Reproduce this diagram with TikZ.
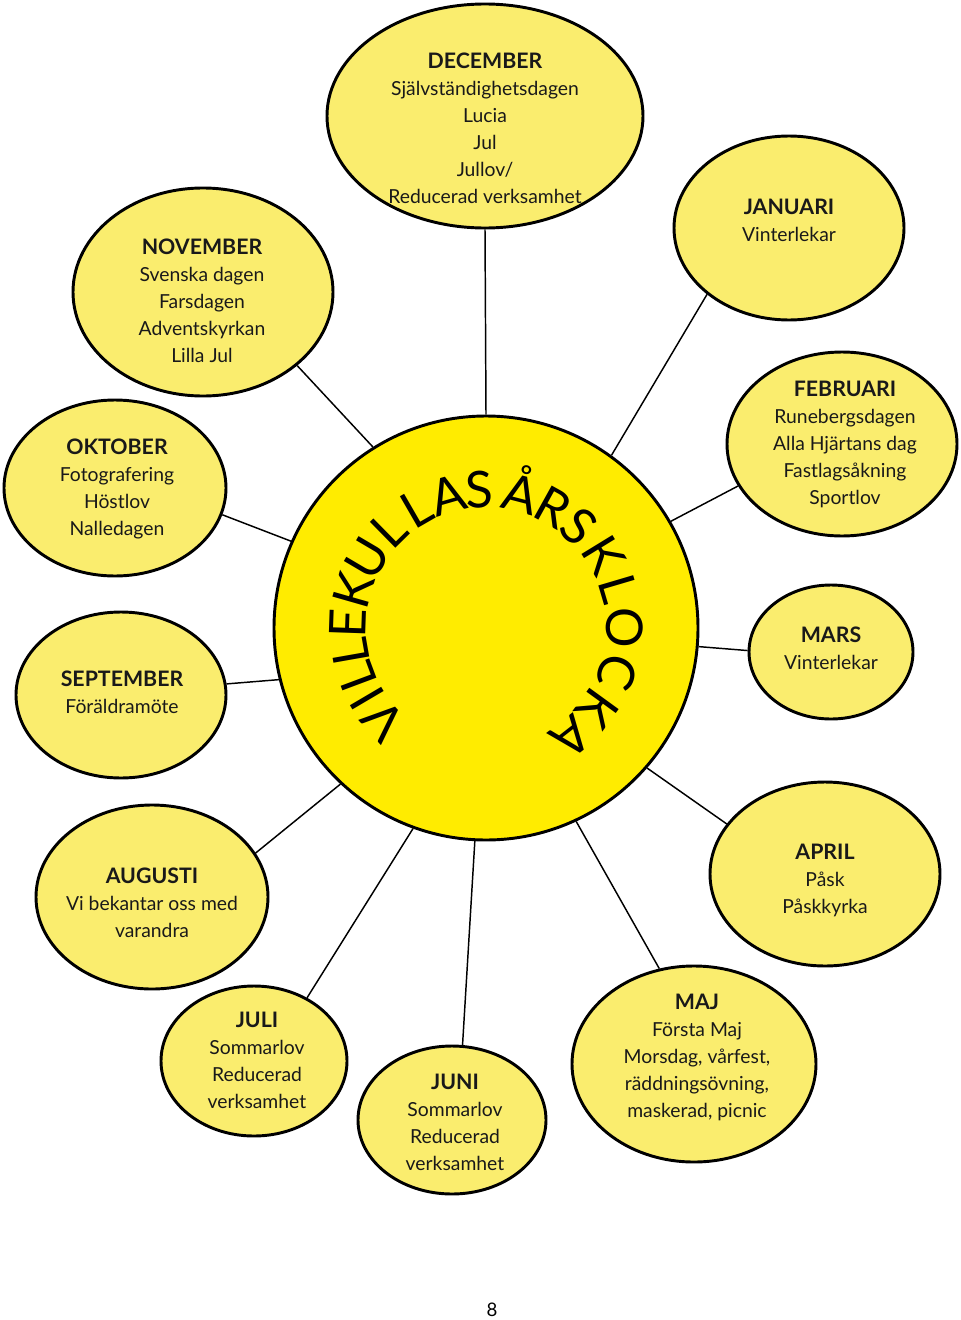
\documentclass[tikz,border=0pt]{standalone}
\usepackage{fontspec}
\setmainfont{Lato}
\usetikzlibrary{shapes.geometric}
\definecolor{pale}{RGB}{250,237,110}
\definecolor{sunfill}{RGB}{255,236,0}
\newcommand{\mhead}[1]{{\fontsize{16}{20.25}\selectfont\bfseries #1}}
\newcommand{\monthell}[5]{\node[month, minimum width=#4*1.5pt, minimum height=#5*1.5pt] (#1) at (#2,-#3) {};}
\begin{document}
\begin{tikzpicture}[x=0.75pt,y=0.75pt,
  month/.style={ellipse, draw=black, line width=2.2pt, fill=pale, inner sep=0pt},
  mtext/.style={align=center, font=\fontsize{14.5}{20.25}\selectfont, inner sep=0pt, text=black!90},
  arcletter/.style={font=\fontsize{38}{38}\selectfont, anchor=base, inner sep=0pt},
  conn/.style={line width=1.1pt}]
\useasboundingbox[fill=white] (0,0) rectangle (960,-1320);

% central clock
\node[circle, draw=black, line width=2.2pt, fill=sunfill, minimum size=424*0.75pt, inner sep=0pt] (clock) at (486,-628) {};
\foreach \ch/\ang [count=\i] in {V/222, I/210.5, L/200.5, L/190, E/178, K/164, U/149.5, L/134.5, L/120, A/106, S/93, Å/75.5, R/61, S/47.5, K/31.5, L/16.5, O/0, C/-18.5, K/-36, A/-52}
  \node[arcletter, rotate=\ang-90] (l\i) at ([shift={(\ang:90pt)}]clock.center) {\ch};

% month ellipses
\monthell{dec}{485}{116}{158}{112}
\monthell{nov}{203}{292}{130}{104}
\monthell{jan}{789}{228}{115}{92}
\monthell{feb}{842}{444}{115}{92}
\monthell{okt}{115}{488}{111}{88}
\monthell{mar}{831}{652}{82}{67}
\monthell{sep}{121}{695}{105}{83}
\monthell{aug}{152}{897}{116}{92}
\monthell{apr}{825}{874}{115}{92}
\monthell{jul}{254}{1061}{93}{75}
\monthell{jun}{452}{1120}{94}{74}
\monthell{maj}{694}{1064}{122}{98}

% connectors
\draw[conn] (dec.south) -- (clock.90);
\draw[conn] (nov.-38) -- (clock.122.5);
\draw[conn] (okt.-14.7) -- (clock.156);
\draw[conn] (sep.6) -- (clock.194);
\draw[conn] (aug.23.6) -- (clock.227);
\draw[conn] (jul.50.4) -- (clock.250);
\draw[conn] (jun.82.3) -- (clock.267);
\draw[conn] (maj.110.6) -- (clock.295);
\draw[conn] (apr.153.7) -- (clock.319.2);
\draw[conn] (mar.179.3) -- (clock.355);
\draw[conn] (feb.202.6) -- (clock.30.8);
\draw[conn] (jan.219.6) -- (clock.54.9);

% texts
\node[mtext] (tdec) at (485,-128) {\mhead{DECEMBER}\\Självständighetsdagen\\Lucia\\Jul\\Jullov/\\Reducerad verksamhet};
\node[mtext] (tnov) at (202,-301) {\mhead{NOVEMBER}\\Svenska dagen\\Farsdagen\\Adventskyrkan\\Lilla Jul};
\node[mtext] (tjan) at (789,-220) {\mhead{JANUARI}\\Vinterlekar};
\node[mtext] (tfeb) at (845,-444) {\mhead{FEBRUARI}\\Runebergsdagen\\Alla Hjärtans dag\\Fastlagsåkning\\Sportlov};
\node[mtext] (tokt) at (117,-489) {\mhead{OKTOBER}\\Fotografering\\Höstlov\\Nalledagen};
\node[mtext] (tmar) at (831,-648) {\mhead{MARS}\\Vinterlekar};
\node[mtext] (tsep) at (122,-692) {\mhead{SEPTEMBER}\\Föräldramöte};
\node[mtext] (taug) at (152,-903) {\mhead{AUGUSTI}\\Vi bekantar oss med\\varandra};
\node[mtext] (tapr) at (825,-880) {\mhead{APRIL}\\Påsk\\Påskkyrka};
\node[mtext] (tjul) at (257,-1060) {\mhead{JULI}\\Sommarlov\\Reducerad\\verksamhet};
\node[mtext] (tjun) at (455,-1122) {\mhead{JUNI}\\Sommarlov\\Reducerad\\verksamhet};
\node[mtext] (tmaj) at (697,-1057) {\mhead{MAJ}\\Första Maj\\Morsdag, vårfest,\\räddningsövning,\\maskerad, picnic};

\node[font=\fontsize{14}{14}\selectfont, inner sep=0pt] (pg) at (492,-1310) {8};
\end{tikzpicture}
\end{document}
